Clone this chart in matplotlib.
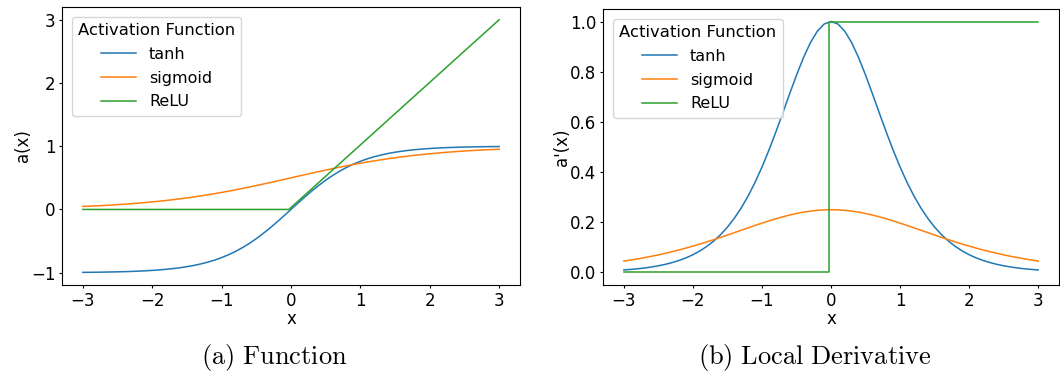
import matplotlib
matplotlib.use('Agg')
import matplotlib.pyplot as plt

# sample points on [-3, 3], step 0.1
xs = [-3.0, -2.9, -2.8, -2.7, -2.6, -2.5, -2.4, -2.3, -2.2, -2.1,
      -2.0, -1.9, -1.8, -1.7, -1.6, -1.5, -1.4, -1.3, -1.2, -1.1,
      -1.0, -0.9, -0.8, -0.7, -0.6, -0.5, -0.4, -0.3, -0.2, -0.1,
      0.0, 0.1, 0.2, 0.3, 0.4, 0.5, 0.6, 0.7, 0.8, 0.9,
      1.0, 1.1, 1.2, 1.3, 1.4, 1.5, 1.6, 1.7, 1.8, 1.9,
      2.0, 2.1, 2.2, 2.3, 2.4, 2.5, 2.6, 2.7, 2.8, 2.9, 3.0]

tanh_vals = [-0.9951, -0.9940, -0.9926, -0.9910, -0.9890, -0.9866, -0.9837, -0.9801, -0.9757, -0.9705,
             -0.9640, -0.9562, -0.9468, -0.9354, -0.9217, -0.9051, -0.8854, -0.8617, -0.8337, -0.8005,
             -0.7616, -0.7163, -0.6640, -0.6044, -0.5370, -0.4621, -0.3799, -0.2913, -0.1974, -0.0997,
             0.0, 0.0997, 0.1974, 0.2913, 0.3799, 0.4621, 0.5370, 0.6044, 0.6640, 0.7163,
             0.7616, 0.8005, 0.8337, 0.8617, 0.8854, 0.9051, 0.9217, 0.9354, 0.9468, 0.9562,
             0.9640, 0.9705, 0.9757, 0.9801, 0.9837, 0.9866, 0.9890, 0.9910, 0.9926, 0.9940, 0.9951]

sigmoid_vals = [0.0474, 0.0522, 0.0573, 0.0630, 0.0691, 0.0759, 0.0832, 0.0911, 0.0998, 0.1091,
                0.1192, 0.1301, 0.1419, 0.1545, 0.1680, 0.1824, 0.1978, 0.2142, 0.2315, 0.2497,
                0.2689, 0.2891, 0.3100, 0.3318, 0.3543, 0.3775, 0.4013, 0.4256, 0.4502, 0.4750,
                0.5000, 0.5250, 0.5498, 0.5744, 0.5987, 0.6225, 0.6457, 0.6682, 0.6900, 0.7109,
                0.7311, 0.7503, 0.7685, 0.7858, 0.8022, 0.8176, 0.8320, 0.8455, 0.8581, 0.8699,
                0.8808, 0.8909, 0.9002, 0.9089, 0.9168, 0.9241, 0.9309, 0.9370, 0.9427, 0.9478, 0.9526]

tanh_grad = [0.0099, 0.0121, 0.0147, 0.0179, 0.0218, 0.0266, 0.0323, 0.0394, 0.0479, 0.0582,
             0.0707, 0.0857, 0.1036, 0.1250, 0.1505, 0.1807, 0.2161, 0.2574, 0.3050, 0.3592,
             0.4200, 0.4869, 0.5591, 0.6347, 0.7116, 0.7864, 0.8557, 0.9151, 0.9610, 0.9901,
             1.0000, 0.9901, 0.9610, 0.9151, 0.8557, 0.7864, 0.7116, 0.6347, 0.5591, 0.4869,
             0.4200, 0.3592, 0.3050, 0.2574, 0.2161, 0.1807, 0.1505, 0.1250, 0.1036, 0.0857,
             0.0707, 0.0582, 0.0479, 0.0394, 0.0323, 0.0266, 0.0218, 0.0179, 0.0147, 0.0121, 0.0099]

sigmoid_grad = [0.0452, 0.0497, 0.0542, 0.0592, 0.0644, 0.0701, 0.0763, 0.0828, 0.0899, 0.0972,
                0.1050, 0.1131, 0.1217, 0.1306, 0.1398, 0.1491, 0.1587, 0.1683, 0.1779, 0.1874,
                0.1966, 0.2055, 0.2139, 0.2217, 0.2288, 0.2350, 0.2403, 0.2445, 0.2475, 0.2494,
                0.2500, 0.2494, 0.2475, 0.2445, 0.2403, 0.2350, 0.2288, 0.2217, 0.2139, 0.2055,
                0.1966, 0.1874, 0.1779, 0.1683, 0.1587, 0.1491, 0.1398, 0.1306, 0.1217, 0.1131,
                0.1050, 0.0972, 0.0899, 0.0828, 0.0763, 0.0701, 0.0644, 0.0592, 0.0542, 0.0497, 0.0452]

relu_x = [-3.0, -0.03, 3.0]
relu_vals = [0.0, 0.0, 3.0]
relu_grad_x = [-3.0, -0.03, -0.03, 3.0]
relu_grad = [0.0, 0.0, 1.0, 1.0]

plt.rcParams['font.size'] = 12
plt.rcParams['mathtext.fontset'] = 'cm'
plt.rcParams['xtick.major.size'] = 2.2
plt.rcParams['ytick.major.size'] = 2.2
plt.rcParams['ytick.major.pad'] = 2.5
plt.rcParams['xtick.major.pad'] = 3.0

fig = plt.figure(figsize=(10.6, 3.75), dpi=100)
ax1 = fig.add_axes([0.0585, 0.24, 0.432, 0.741])
ax2 = fig.add_axes([0.569, 0.24, 0.430, 0.736])

lw = 1.1
leg_kw = dict(title='Activation Function', loc='upper left', fontsize=11.5,
              title_fontsize=11.8, handlelength=2.2, labelspacing=0.55,
              borderaxespad=0.6)

ax1.plot(xs, tanh_vals, color='tab:blue', lw=lw, label='tanh')
ax1.plot(xs, sigmoid_vals, color='tab:orange', lw=lw, label='sigmoid')
ax1.plot(relu_x, relu_vals, color='tab:green', lw=lw, label='ReLU')
ax1.set_xlabel('x', labelpad=0)
ax1.set_ylabel('a(x)', labelpad=-0.5)
ax1.set_yticks([-1, 0, 1, 2, 3])
ax1.legend(**leg_kw)

ax2.plot(xs, tanh_grad, color='tab:blue', lw=lw, label='tanh')
ax2.plot(xs, sigmoid_grad, color='tab:orange', lw=lw, label='sigmoid')
ax2.plot(relu_grad_x, relu_grad, color='tab:green', lw=lw, label='ReLU')
ax2.set_xlabel('x', labelpad=0)
ax2.set_ylabel("a'(x)", labelpad=-0.5)
ax2.legend(**leg_kw)

for ax in (ax1, ax2):
    ax.set_xticks([-3, -2, -1, 0, 1, 2, 3])

fig.text(0.259, 0.046, r'$\mathrm{(a)\ Function}$', ha='center', va='center', fontsize=19)
fig.text(0.769, 0.046, r'$\mathrm{(b)\ Local\ Derivative}$', ha='center', va='center', fontsize=19)

fig.savefig('out.png', dpi=100)
